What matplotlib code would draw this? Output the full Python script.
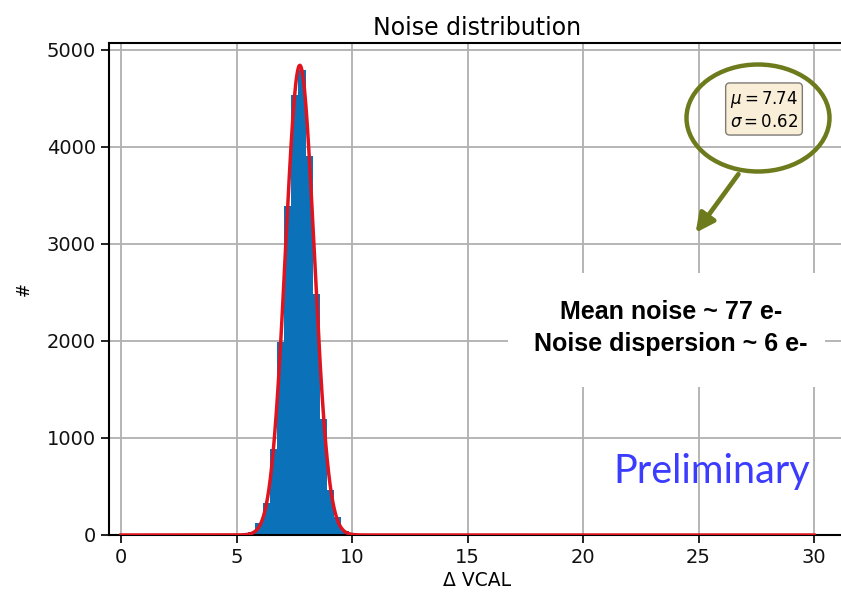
import numpy as np
import matplotlib
matplotlib.use("Agg")
import matplotlib.pyplot as plt
from matplotlib.patches import Ellipse, Rectangle, FancyArrowPatch

# histogram of noise values (Delta VCAL), bins of ~0.31
bin_edges = [5.20, 5.51, 5.82, 6.13, 6.44, 6.75, 7.06, 7.37, 7.68, 7.99,
             8.30, 8.61, 8.92, 9.23, 9.54, 9.85, 10.16, 10.47, 10.78]
counts = [8, 35, 120, 333, 883, 1990, 3395, 4536, 4794, 3907,
          2485, 1196, 464, 182, 45, 17, 8, 5]

# gaussian fit parameters
fit_mu = 7.74
fit_sigma = 0.62
fit_amp = 4840
fit_range = (0, 30)

title = "Noise distribution"
xlabel = "\u0394 VCAL"
ylabel = "#"
summary = "Mean noise ~ 77 e-\nNoise dispersion ~ 6 e-"
stamp = "Preliminary"

olive = "#6e7b1c"

fig = plt.figure(figsize=(8.41, 5.94), dpi=100)
ax = fig.add_axes([109 / 841, 59 / 594, (845 - 109) / 841, (535 - 43) / 594])

centers = [(a + b) / 2 for a, b in zip(bin_edges[:-1], bin_edges[1:])]
ax.hist(centers, bins=bin_edges, weights=counts, color="#0b72b9", zorder=2)

xs = np.linspace(fit_range[0], fit_range[1], 1500)
ys = fit_amp * np.exp(-(xs - fit_mu) ** 2 / (2 * fit_sigma ** 2))
ax.plot(xs, ys, color="#e0141e", lw=2.5, zorder=3)

ax.set_xlim(-0.52, 31.34)
ax.set_ylim(0, 5070)
ax.set_xticks([0, 5, 10, 15, 20, 25, 30])
ax.set_yticks([0, 1000, 2000, 3000, 4000, 5000])
ax.grid(True, color="#b0b0b0", lw=1.3, zorder=0)
ax.set_axisbelow(True)
ax.tick_params(labelsize=14, length=6, width=1.3, colors="#111111")
for s in ax.spines.values():
    s.set_linewidth(1.5)
ax.set_title(title, fontsize=17, pad=6)
ax.set_xlabel(xlabel, fontsize=13.5, labelpad=3)
ax.set_ylabel(ylabel, fontsize=12, labelpad=10)

fig.text(764 / 841, 1 - 110 / 594, "$\\mu=%.2f$\n$\\sigma=%.2f$" % (fit_mu, fit_sigma),
         fontsize=12, ha="center", va="center",
         bbox=dict(boxstyle="round,pad=0.25", facecolor="wheat", alpha=0.5),
         zorder=5)

fig.patches.append(Ellipse((758 / 841, 1 - 118 / 594), 143 / 841, 107 / 594,
                           transform=fig.transFigure, fill=False,
                           ec=olive, lw=3.2, zorder=6))
fig.patches.append(FancyArrowPatch((740 / 841, 1 - 172 / 594), (694 / 841, 1 - 235 / 594),
                                   transform=fig.transFigure, arrowstyle="-|>",
                                   mutation_scale=28, color=olive, lw=3.4, zorder=6))

fig.patches.append(Rectangle((508 / 841, 1 - 387 / 594), 317 / 841, 114 / 594,
                             transform=fig.transFigure, fc="white", ec="none", zorder=4))
fig.text(671 / 841, 1 - 328 / 594, summary, ha="center", va="center",
         fontsize=18, fontweight="bold", family="Liberation Sans",
         linespacing=1.4, zorder=7)
fig.text(712 / 841, 1 - 472 / 594, stamp, ha="center", va="center",
         fontsize=28.5, color="#3c3cff", family="Lato", zorder=7)

fig.savefig("out.png", dpi=100)
